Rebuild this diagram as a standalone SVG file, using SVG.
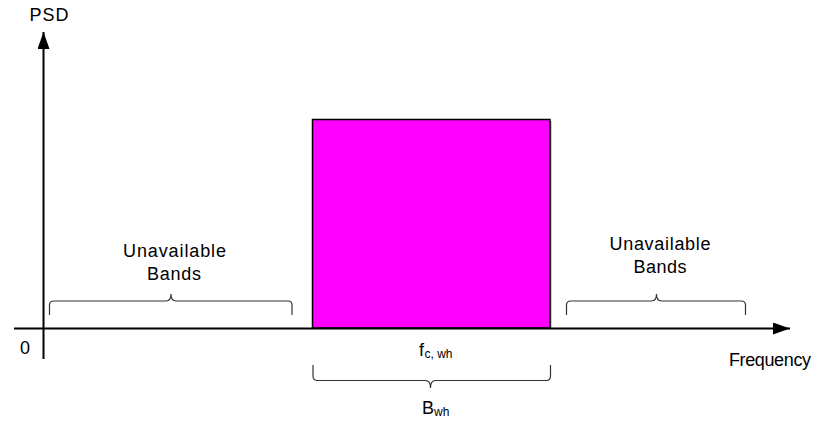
<svg xmlns="http://www.w3.org/2000/svg" width="820" height="421" viewBox="0 0 820 421">
  <defs>
    <style>
      text { font-family: "Liberation Sans", Arial, sans-serif; fill: #000; }
      .lbl { font-size: 18px; }
      .sub { font-size: 12px; }
      .axis { stroke: #000; stroke-width: 2; fill: none; }
      .brace { stroke: #333; stroke-width: 1.2; fill: none; }
    </style>
    <marker id="arr" markerWidth="17" markerHeight="12" refX="17" refY="6" orient="auto" markerUnits="userSpaceOnUse">
      <path d="M0,0 L17,6 L0,12 Z" fill="#000"/>
    </marker>
  </defs>
  <rect width="820" height="421" fill="#fff"/>

  <g id="band">
    <rect x="314" y="121" width="237.5" height="208" fill="#999"/>
    <rect x="312.5" y="119.5" width="237.5" height="208.5" fill="#ff00ff" stroke="#000" stroke-width="1.5"/>
  </g>

  <g id="connectors">
    <line class="axis" x1="14" y1="328.5" x2="790" y2="328.5" marker-end="url(#arr)"/>
    <line class="axis" x1="43.5" y1="359" x2="43.5" y2="32" marker-end="url(#arr)"/>
    <path class="brace" d="M49.5,315 L49.5,305 Q49.5,301 54,301 L166,301 Q171,301 171,294 Q171,301 176,301 L288,301 Q292,301 292,305 L292,315"/>
    <path class="brace" d="M566.5,315 L566.5,305 Q566.5,301 571,301 L651.5,301 Q656.5,301 656.5,294 Q656.5,301 661.5,301 L741,301 Q745.5,301 745.5,305 L745.5,315"/>
    <path class="brace" d="M313,365 L313,376 Q313,380.5 317.5,380.5 L425.5,380.5 Q430.5,380.5 430.5,388 Q430.5,380.5 435.5,380.5 L546,380.5 Q550.5,380.5 550.5,376 L550.5,365"/>
  </g>

  <g id="label-psd"><text class="lbl" x="29.5" y="20.5" textLength="39" lengthAdjust="spacing">PSD</text></g>
  <g id="label-zero"><text class="lbl" x="20" y="354">0</text></g>
  <g id="label-frequency"><text class="lbl" x="729" y="366" textLength="82" lengthAdjust="spacing">Frequency</text></g>
  <g id="label-left-unavailable">
    <text class="lbl" x="123" y="257" textLength="103" lengthAdjust="spacing">Unavailable</text>
    <text class="lbl" x="147" y="279.5" textLength="54" lengthAdjust="spacing">Bands</text>
  </g>
  <g id="label-right-unavailable">
    <text class="lbl" x="609.5" y="250" textLength="101" lengthAdjust="spacing">Unavailable</text>
    <text class="lbl" x="633.5" y="273" textLength="53" lengthAdjust="spacing">Bands</text>
  </g>
  <g id="label-fc">
    <text class="lbl" x="419" y="356">f</text>
    <text class="sub" x="424.5" y="358">c, wh</text>
  </g>
  <g id="label-bwh">
    <text class="lbl" x="422" y="413.5">B</text>
    <text class="sub" x="434" y="415.5">wh</text>
  </g>
</svg>
